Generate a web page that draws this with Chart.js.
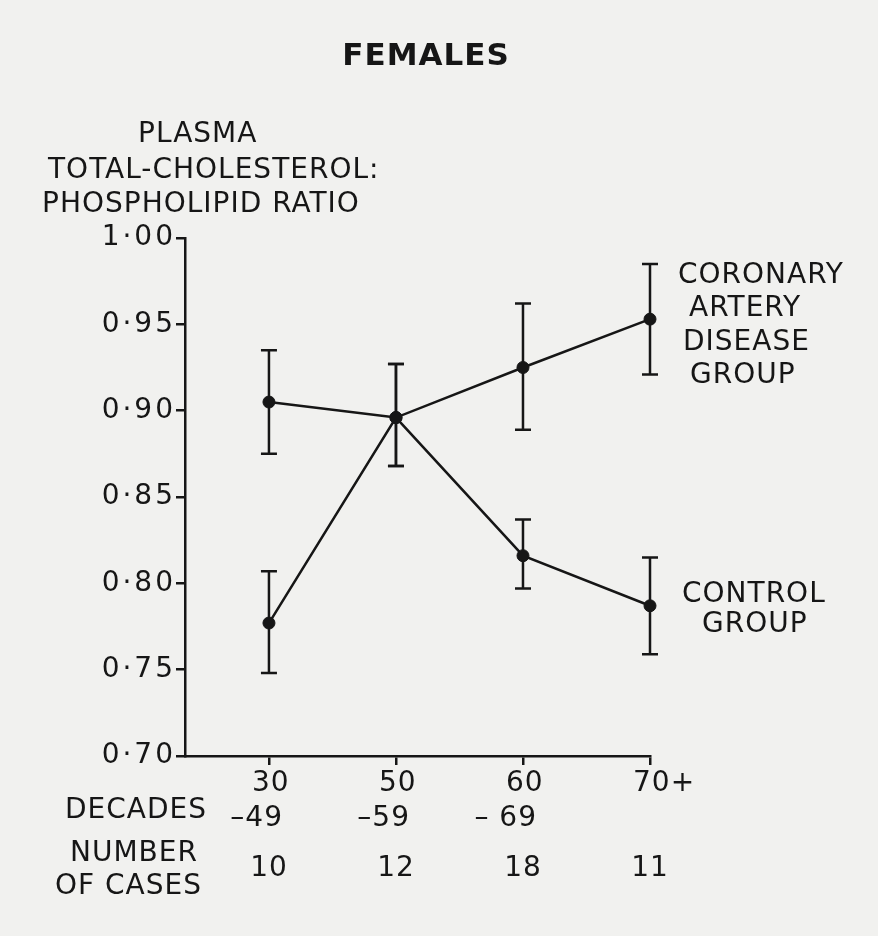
<!DOCTYPE html>
<html>
<head>
<meta charset="utf-8">
<script src="https://cdn.jsdelivr.net/npm/chart.js@4.4.0/dist/chart.umd.min.js"></script>
<style>
html,body{margin:0;padding:0;background:#f1f1ef;}
#wrap{width:878px;height:936px;position:relative;}
canvas{display:block;}
</style>
</head>
<body>
<div id="wrap"><canvas id="c" width="878" height="936"></canvas></div>
<script>
// ---- data ----
const chartTitle = 'FEMALES';
const yTitleLines = ['PLASMA', 'TOTAL-CHOLESTEROL:', 'PHOSPHOLIPID RATIO'];
const yTickValues = [0.70, 0.75, 0.80, 0.85, 0.90, 0.95, 1.00];
const yTickLabels = ['0·70', '0·75', '0·80', '0·85', '0·90', '0·95', '1·00'];
const categoryIndex = [0, 1, 2, 3];
const decadeStart = ['30', '50', '60', '70+'];
const decadeEnd = ['–49', '–59', '– 69', ''];
const numberOfCases = ['10', '12', '18', '11'];
const rowTitleDecades = ['DECADES'];
const rowTitleCases = ['NUMBER', 'OF CASES'];
const coronaryName = ['CORONARY', 'ARTERY', 'DISEASE', 'GROUP'];
const controlName = ['CONTROL', 'GROUP'];

const coronary     = [0.905, 0.896, 0.925, 0.953];
const coronaryLow  = [0.875, 0.868, 0.889, 0.921];
const coronaryHigh = [0.935, 0.927, 0.962, 0.985];

const control      = [0.777, 0.896, 0.816, 0.787];
const controlLow   = [0.748, 0.868, 0.797, 0.759];
const controlHigh  = [0.807, 0.927, 0.837, 0.815];

// ---- styling ----
const INK = '#161616';
const FONT = '"DejaVu Sans", "Noto Sans", sans-serif';

const bgPlugin = {
  id: 'bg',
  beforeDraw(chart) {
    const ctx = chart.ctx;
    ctx.save();
    ctx.fillStyle = '#f1f1ef';
    ctx.fillRect(0, 0, chart.width, chart.height);
    ctx.restore();
    try { ctx.letterSpacing = '3px'; } catch (e) {}
  }
};

const errorBarPlugin = {
  id: 'errorBars',
  beforeDatasetsDraw(chart) {
    const ctx = chart.ctx;
    const xs = chart.scales.x, ys = chart.scales.y;
    const sets = [[coronaryLow, coronaryHigh], [controlLow, controlHigh]];
    ctx.save();
    ctx.strokeStyle = INK;
    ctx.lineWidth = 2.5;
    ctx.lineCap = 'butt';
    const cap = 8;
    sets.forEach(([lo, hi]) => {
      categoryIndex.forEach((c, i) => {
        if (lo[i] == null || hi[i] == null) return;
        const px = xs.getPixelForValue(c);
        const y1 = ys.getPixelForValue(lo[i]);
        const y2 = ys.getPixelForValue(hi[i]);
        ctx.beginPath();
        ctx.moveTo(px, y1); ctx.lineTo(px, y2);
        ctx.moveTo(px - cap, y1); ctx.lineTo(px + cap, y1);
        ctx.moveTo(px - cap, y2); ctx.lineTo(px + cap, y2);
        ctx.stroke();
      });
    });
    ctx.restore();
  }
};

const textPlugin = {
  id: 'texts',
  afterDraw(chart) {
    const ctx = chart.ctx;
    const xs = chart.scales.x;
    ctx.save();
    ctx.fillStyle = INK;
    ctx.textBaseline = 'alphabetic';
    try { ctx.letterSpacing = '1px'; } catch (e) {}

    // title
    ctx.font = 'bold 31px ' + FONT;
    ctx.textAlign = 'center';
    ctx.fillText(chartTitle, 426, 65);

    ctx.font = '28px ' + FONT;
    ctx.textAlign = 'left';
    // y-axis title
    const yTitleX = [138, 48, 42], yTitleY = [142, 178, 212];
    yTitleLines.forEach((t, i) => ctx.fillText(t, yTitleX[i], yTitleY[i]));

    // series labels
    const corX = [678, 689, 683, 690], corY = [283, 316, 350, 383];
    coronaryName.forEach((t, i) => ctx.fillText(t, corX[i], corY[i]));
    const conX = [682, 702], conY = [602, 632];
    controlName.forEach((t, i) => ctx.fillText(t, conX[i], conY[i]));

    // row titles
    ctx.fillText(rowTitleDecades[0], 65, 818);
    ctx.fillText(rowTitleCases[0], 70, 861);
    ctx.fillText(rowTitleCases[1], 55, 894);

    // x labels
    categoryIndex.forEach((c, i) => {
      const px = xs.getPixelForValue(c);
      ctx.textAlign = 'left';
      ctx.fillText(decadeStart[i], px - 17, 791);
      ctx.textAlign = 'right';
      if (decadeEnd[i]) ctx.fillText(decadeEnd[i], px + 14, 826);
      ctx.textAlign = 'center';
      ctx.fillText(numberOfCases[i], px, 876);
    });
    ctx.restore();
  }
};

const toPts = arr => arr.map((v, i) => ({ x: categoryIndex[i], y: v }));

const dsStyle = {
  borderColor: INK,
  backgroundColor: INK,
  borderWidth: 2.5,
  pointRadius: 6,
  pointHoverRadius: 6,
  pointBackgroundColor: INK,
  pointBorderColor: INK,
  pointBorderWidth: 1,
  tension: 0,
  clip: false,
  fill: false
};

new Chart(document.getElementById('c'), {
  type: 'line',
  data: {
    datasets: [
      Object.assign({ label: 'Coronary artery disease group', data: toPts(coronary) }, dsStyle),
      Object.assign({ label: 'Control group', data: toPts(control) }, dsStyle)
    ]
  },
  options: {
    responsive: false,
    devicePixelRatio: 1,
    animation: false,
    events: [],
    layout: { padding: { left: 0, right: 228, top: 238, bottom: 170 } },
    plugins: { legend: { display: false }, title: { display: false }, tooltip: { enabled: false } },
    scales: {
      x: {
        type: 'linear',
        min: -0.661,
        max: 3,
        afterBuildTicks(s) { s.ticks = categoryIndex.map(v => ({ value: v })); },
        afterFit(s) { s.height = 10; },
        ticks: { display: false },
        grid: { display: true, drawOnChartArea: false, drawTicks: true, tickLength: 9, color: INK, lineWidth: 2.5 },
        border: { display: true, color: INK, width: 2.5 }
      },
      y: {
        type: 'linear',
        min: 0.70,
        max: 1.00,
        afterBuildTicks(s) { s.ticks = yTickValues.map(v => ({ value: v })); },
        afterFit(s) { s.width = 185; },
        ticks: {
          callback: (v, i) => yTickLabels[i],
          font: { family: FONT, size: 28 },
          color: INK,
          padding: 0
        },
        grid: { display: true, drawOnChartArea: false, drawTicks: true, tickLength: 9, color: INK, lineWidth: 2.5 },
        border: { display: true, color: INK, width: 2.5 }
      }
    }
  },
  plugins: [bgPlugin, errorBarPlugin, textPlugin]
});
</script>
</body>
</html>
